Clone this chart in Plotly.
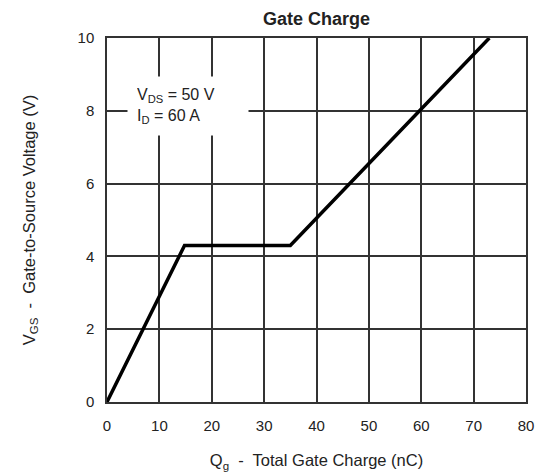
import plotly.graph_objects as go

qg_nc = [0, 14.8, 35, 73]
vgs_v = [0, 4.3, 4.3, 10]
x_ticks = [0, 10, 20, 30, 40, 50, 60, 70, 80]
y_ticks = [0, 2, 4, 6, 8, 10]

fig = go.Figure()
fig.add_trace(go.Scatter(x=qg_nc, y=vgs_v, mode="lines",
                         line=dict(color="black", width=3.5), showlegend=False))

axis_common = dict(showgrid=True, gridcolor="#333333", gridwidth=1.5,
                   showline=True, linecolor="#333333", linewidth=1.5, mirror=True,
                   zeroline=False, ticks="", tickfont=dict(size=15, color="#222"))

fig.update_xaxes(range=[0, 80], tickvals=x_ticks, ticklabelstandoff=9,
                 title=dict(text="Q<sub>g</sub>  -  Total Gate Charge (nC)",
                            font=dict(size=16.5, color="#222"), standoff=22),
                 **axis_common)
fig.update_yaxes(range=[0, 10], tickvals=y_ticks, ticklabelstandoff=8,
                 title=dict(text="V<sub>GS</sub>  -  Gate-to-Source Voltage (V)",
                            font=dict(size=16.5, color="#222"), standoff=38),
                 **axis_common)

fig.add_annotation(x=3.8, y=8.14, xref="x", yref="y", xanchor="left", yanchor="middle",
                   text="V<sub>DS</sub> = 50 V<br>I<sub>D</sub> = 60 A", showarrow=False,
                   align="left", width=102, bgcolor="white", borderpad=9,
                   font=dict(size=16, color="#222"))

fig.update_layout(
    width=543, height=476,
    margin=dict(l=99, r=25, t=30, b=82),
    paper_bgcolor="white", plot_bgcolor="white",
    font=dict(family="Liberation Sans, Arial, sans-serif"),
    title=dict(text="<b>Gate Charge</b>", x=0.5, xanchor="center", xref="paper",
               y=0.978, yanchor="middle", font=dict(size=18, color="#222")),
)

fig.write_html("out.html")
